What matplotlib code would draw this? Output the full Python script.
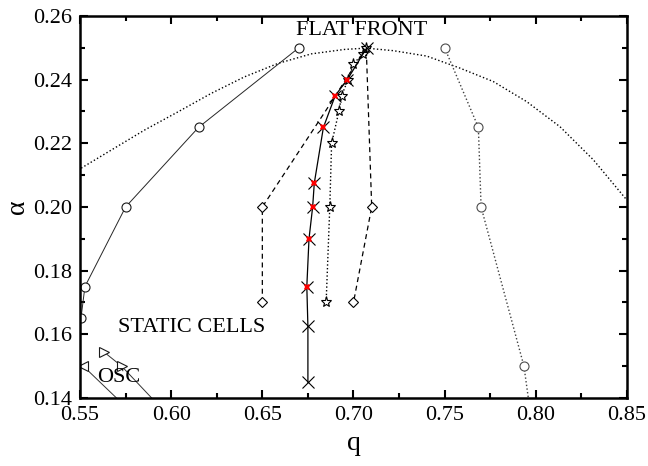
import numpy as np
import matplotlib
matplotlib.use('Agg')
import matplotlib.pyplot as plt
from matplotlib.ticker import MultipleLocator, FormatStrFormatter

plt.rcParams['font.family'] = ['Liberation Serif', 'DejaVu Serif']

# dotted boundary curve
curve_q = [0.5489, 0.5672, 0.5855, 0.6038, 0.6220, 0.6403, 0.6586, 0.6769, 0.6952,
           0.7070, 0.7219, 0.7402, 0.7585, 0.7767, 0.7950, 0.8133, 0.8316, 0.8499]
curve_a = [0.2116, 0.2179, 0.2242, 0.2299, 0.2357, 0.2409, 0.2451, 0.2481, 0.2495,
           0.2499, 0.2491, 0.2474, 0.2436, 0.2394, 0.2331, 0.2252, 0.2148, 0.2022]

# open circles, left branch
circL_q = [0.670, 0.615, 0.575, 0.5527, 0.5505]
circL_a = [0.250, 0.225, 0.200, 0.175, 0.165]

# open circles, right branch
circR_q = [0.750, 0.7685, 0.770, 0.7935, 0.7995]
circR_a = [0.250, 0.225, 0.200, 0.150, 0.125]

# diamonds (dashed)
diam_q = [0.650, 0.650, 0.6845, 0.707, 0.710, 0.700]
diam_a = [0.170, 0.200, 0.2300, 0.250, 0.200, 0.170]

# crosses (solid), red flags mark the coloured ones
cross_q = [0.675, 0.675, 0.6744, 0.6756, 0.6776, 0.6785, 0.6835, 0.690, 0.6966, 0.7073]
cross_a = [0.145, 0.1625, 0.175, 0.190, 0.200, 0.2075, 0.225, 0.235, 0.240, 0.250]
cross_red = [False, False, True, True, True, True, True, True, True, False]

# stars (dotted)
star_q = [0.685, 0.687, 0.688, 0.692, 0.6935, 0.697, 0.700, 0.705, 0.707]
star_a = [0.170, 0.200, 0.220, 0.230, 0.235, 0.240, 0.245, 0.248, 0.250]

# oscillating region triangles
triR_q = [0.5630, 0.5728, 0.600]
triR_a = [0.1545, 0.150, 0.1335]
triL_q = [0.5518, 0.580]
triL_a = [0.150, 0.1345]

fig = plt.figure(figsize=(6.48, 4.66), dpi=100)
ax = fig.add_axes([0.1235, 0.146, 0.844, 0.8197])

ax.plot(curve_q, curve_a, ':', color='black', lw=1.0)

ax.plot(circL_q, circL_a, '-', color='0.15', lw=0.7, marker='o', ms=6.5,
        mfc='white', mec='0.1', mew=0.8)
ax.plot(circR_q, circR_a, ':', color='0.25', lw=1.0, marker='o', ms=6.5,
        mfc='white', mec='0.3', mew=0.8)

ax.plot(diam_q, diam_a, '--', color='black', lw=0.9, marker='D', ms=5.5,
        mfc='white', mec='black', mew=0.8, markevery=[0, 1, 4, 5], dashes=(4, 3))

ax.plot(star_q, star_a, ':', color='black', lw=1.0, marker='*', ms=8,
        mfc='white', mec='black', mew=0.8)

ax.plot(cross_q, cross_a, '-', color='black', lw=0.9)
ax.plot(cross_q, cross_a, 'x', color='black', ms=8, mew=0.8, ls='none')
rq = [q for q, r in zip(cross_q, cross_red) if r]
ra = [a for a, r in zip(cross_a, cross_red) if r]
ax.plot(rq, ra, 'X', color='red', ms=4.5, mew=0, ls='none')

ax.plot(triR_q, triR_a, '-', color='0.2', lw=0.7, marker='>', ms=6.5,
        mfc='white', mec='0.1', mew=0.8, markevery=[0, 1])
ax.plot(triL_q, triL_a, '-', color='0.2', lw=0.7, marker='<', ms=6.5,
        mfc='white', mec='0.1', mew=0.8, markevery=[0])

ax.text(0.7047, 0.2553, 'FLAT FRONT', fontsize=16, ha='center', va='center')
ax.text(0.6112, 0.1620, 'STATIC CELLS', fontsize=16, ha='center', va='center')
ax.text(0.5714, 0.1465, 'OSC', fontsize=16, ha='center', va='center')

ax.set_xlim(0.55, 0.85)
ax.set_ylim(0.14, 0.26)
ax.xaxis.set_major_locator(MultipleLocator(0.05))
ax.xaxis.set_minor_locator(MultipleLocator(0.025))
ax.yaxis.set_major_locator(MultipleLocator(0.02))
ax.yaxis.set_minor_locator(MultipleLocator(0.01))
ax.xaxis.set_major_formatter(FormatStrFormatter('%.2f'))
ax.yaxis.set_major_formatter(FormatStrFormatter('%.2f'))
ax.tick_params(which='both', direction='in', top=True, right=True, labelsize=16, width=1.5)
ax.tick_params(which='major', length=6, pad=6)
ax.tick_params(which='minor', length=3.5)
for s in ax.spines.values():
    s.set_linewidth(1.8)

ax.set_xlabel('q', fontsize=20, labelpad=4)
ax.set_ylabel('α', fontsize=20, labelpad=2)

fig.savefig('out.png', dpi=100)
